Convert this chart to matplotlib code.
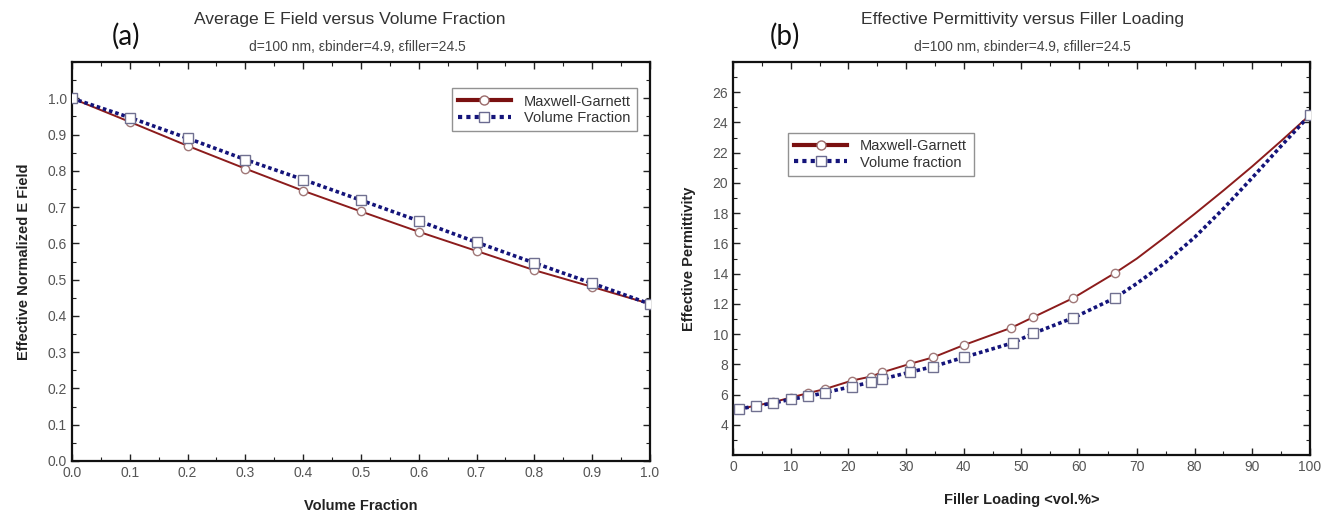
import matplotlib
matplotlib.use("Agg")
import matplotlib.pyplot as plt
from matplotlib.lines import Line2D
from matplotlib.ticker import MultipleLocator, FormatStrFormatter

plt.rcParams['font.family'] = ['Liberation Sans', 'DejaVu Sans']

# ---------------- data: panel (a) ----------------
vol_frac = [0.0, 0.1, 0.2, 0.3, 0.4, 0.5, 0.6, 0.7, 0.8, 0.9, 1.0]
mg_field = [1.000, 0.935, 0.869, 0.806, 0.745, 0.688, 0.632, 0.579, 0.526, 0.480, 0.433]
vf_field = [1.000, 0.947, 0.890, 0.831, 0.776, 0.719, 0.662, 0.603, 0.546, 0.490, 0.433]

# ---------------- data: panel (b) ----------------
# curve points (markers shown only at the indices listed in *_marked)
mg_load = [1, 4, 7, 10, 13, 16, 20.6, 23.9, 25.9, 30.6, 34.7, 40, 48.2, 52, 59, 66.2,
           70, 75, 80, 85, 90, 95, 100]
mg_perm = [5.03, 5.27, 5.49, 5.80, 6.09, 6.37, 6.92, 7.19, 7.47, 8.02, 8.46, 9.27, 10.41,
           11.11, 12.39, 14.04, 15.0, 16.45, 17.95, 19.5, 21.1, 22.78, 24.5]
mg_marked = [0, 1, 2, 3, 4, 5, 6, 7, 8, 9, 10, 11, 12, 13, 14, 15, 22]

vf_load = [1, 4, 7, 10, 13, 16, 20.6, 23.9, 25.9, 30.6, 34.7, 40, 48.5, 52, 59, 66.2,
           70, 75, 80, 85, 90, 95, 100]
vf_perm = [5.03, 5.25, 5.43, 5.69, 5.87, 6.13, 6.53, 6.81, 7.03, 7.47, 7.85, 8.46, 9.42,
           10.04, 11.08, 12.39, 13.35, 14.75, 16.4, 18.3, 20.35, 22.45, 24.5]
vf_marked = [0, 1, 2, 3, 4, 5, 6, 7, 8, 9, 10, 11, 12, 13, 14, 15, 22]

mg_color = '#8c1c1c'
vf_color = '#14147a'
tick_color = '#555555'

fig = plt.figure(figsize=(13.23, 5.13), dpi=100)
axa = fig.add_axes([0.0544, 0.1014, 0.4369, 0.7777])
axb = fig.add_axes([0.5540, 0.1131, 0.4362, 0.7660])


def style_axes(ax):
    for s in ax.spines.values():
        s.set_linewidth(1.6)
        s.set_color('#111111')
    ax.tick_params(which='both', direction='in', top=True, right=True,
                   colors='#222222', labelcolor=tick_color, labelsize=10)
    ax.tick_params(which='major', length=5, width=1.0)
    ax.tick_params(which='minor', length=3, width=0.8)


def legend_handles(mg_label, vf_label):
    h1 = Line2D([], [], color='#7a1010', lw=3, marker='o', markersize=6.5,
                markerfacecolor='white', markeredgecolor='#9a6a6a', label=mg_label)
    h2 = Line2D([], [], color=vf_color, lw=3, ls=(0, (1, 1)), marker='s', markersize=6.5,
                markerfacecolor='white', markeredgecolor='#6a6a90', label=vf_label)
    return [h1, h2]


def make_legend(ax, labels, loc, anchor):
    leg = ax.legend(handles=legend_handles(*labels), loc=loc, bbox_to_anchor=anchor,
                    fontsize=10.5, frameon=True, fancybox=False, edgecolor='#777777',
                    handlelength=3.6, borderpad=0.45, labelspacing=0.15,
                    handletextpad=0.9, borderaxespad=0.0)
    leg.get_frame().set_linewidth(1.0)
    for t in leg.get_texts():
        t.set_color('#333333')
    return leg


# ---------------- panel (a) ----------------
axa.plot(vol_frac, mg_field, color=mg_color, lw=1.4, marker='o', markersize=6,
         markerfacecolor='white', markeredgecolor='#a07878', markeredgewidth=1.0, zorder=3)
axa.plot(vol_frac, vf_field, color=vf_color, lw=2.6, ls=(0, (1, 0.8)), marker='s',
         markersize=6.5, markerfacecolor='white', markeredgecolor='#707090',
         markeredgewidth=1.0, zorder=4)
axa.set_xlim(0, 1.0)
axa.set_ylim(0, 1.1)
axa.set_xticks(vol_frac)
axa.set_yticks([0.0, 0.1, 0.2, 0.3, 0.4, 0.5, 0.6, 0.7, 0.8, 0.9, 1.0])
axa.xaxis.set_minor_locator(MultipleLocator(0.05))
axa.yaxis.set_minor_locator(MultipleLocator(0.05))
axa.xaxis.set_major_formatter(FormatStrFormatter('%.1f'))
axa.yaxis.set_major_formatter(FormatStrFormatter('%.1f'))
style_axes(axa)
axa.set_xlabel('Volume Fraction', fontsize=10.5, fontweight='bold', color='#222222', labelpad=14)
axa.set_ylabel('Effective Normalized E Field', fontsize=10.5, fontweight='bold',
               color='#222222', labelpad=12)
make_legend(axa, ('Maxwell-Garnett', 'Volume Fraction'), 'upper right', (0.978, 0.935))

fig.text(0.2645, 0.962, 'Average E Field versus Volume Fraction', ha='center', va='center',
         fontsize=12.6, color='#333333')
fig.text(0.2700, 0.909, 'd=100 nm, \u03b5binder=4.9, \u03b5filler=24.5', ha='center',
         va='center', fontsize=10, color='#444444')
fig.text(0.095, 0.93, '(a)', ha='center', va='center', fontsize=20, color='#111111',
         family=['Lato', 'DejaVu Sans'])

# ---------------- panel (b) ----------------
axb.plot(mg_load, mg_perm, color=mg_color, lw=1.4, marker='o', markersize=6,
         markevery=mg_marked, markerfacecolor='white', markeredgecolor='#a07878',
         markeredgewidth=1.0, zorder=3)
axb.plot(vf_load, vf_perm, color=vf_color, lw=2.6, ls=(0, (1, 0.8)), marker='s',
         markersize=6.5, markevery=vf_marked, markerfacecolor='white',
         markeredgecolor='#707090', markeredgewidth=1.0, zorder=4)
axb.set_xlim(0, 100)
axb.set_ylim(2, 28)
axb.set_xticks(list(range(0, 101, 10)))
axb.set_yticks(list(range(4, 27, 2)))
axb.xaxis.set_minor_locator(MultipleLocator(5))
axb.yaxis.set_minor_locator(MultipleLocator(1))
style_axes(axb)
axb.set_xlabel('Filler Loading <vol.%>', fontsize=10.5, fontweight='bold', color='#222222',
               labelpad=14)
axb.set_ylabel('Effective Permittivity', fontsize=10.5, fontweight='bold', color='#222222',
               labelpad=12)
make_legend(axb, ('Maxwell-Garnett', 'Volume fraction'), 'upper left', (0.095, 0.82))

fig.text(0.7730, 0.962, 'Effective Permittivity versus Filler Loading', ha='center',
         va='center', fontsize=12.6, color='#333333')
fig.text(0.7730, 0.909, 'd=100 nm, \u03b5binder=4.9, \u03b5filler=24.5', ha='center',
         va='center', fontsize=10, color='#444444')
fig.text(0.593, 0.93, '(b)', ha='center', va='center', fontsize=20, color='#111111',
         family=['Lato', 'DejaVu Sans'])

fig.savefig('out.png', dpi=100, facecolor='white')
